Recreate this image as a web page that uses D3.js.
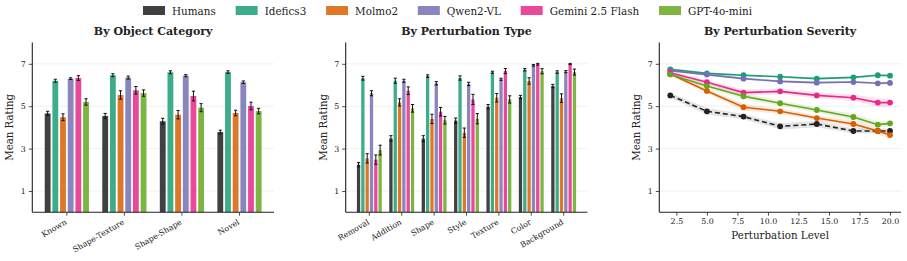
<!DOCTYPE html>
<html><head><meta charset="utf-8">
<script src="https://cdn.jsdelivr.net/npm/d3@7"></script>
<style>
body{margin:0;background:#fff;}
svg text{font-family:"DejaVu Serif",serif;fill:#222;}
</style></head>
<body><svg id="chart" width="907" height="261"></svg>
<script>
// ---------- DATA ----------
const models = ["Humans","Idefics3","Molmo2","Qwen2-VL","Gemini 2.5 Flash","GPT-4o-mini"];
const yTicks = [1,3,5,7];

const catLabels = ["Known","Shape-Texture","Shape-Shape","Novel"];
// rows = models, cols = categories
const catMeans = [
  [4.66,4.54,4.29,3.78],
  [6.20,6.46,6.60,6.61],
  [4.48,5.53,4.60,4.68],
  [6.30,6.35,6.44,6.13],
  [6.33,5.75,5.48,5.01],
  [5.20,5.62,4.93,4.77]
];
const catErr = [
  [0.10,0.12,0.14,0.09],
  [0.07,0.07,0.07,0.06],
  [0.16,0.20,0.20,0.13],
  [0.04,0.07,0.05,0.06],
  [0.11,0.18,0.23,0.18],
  [0.15,0.15,0.19,0.13]
];

const typeLabels = ["Removal","Addition","Shape","Style","Texture","Color","Background"];
const typeMeans = [
  [2.24,3.48,3.47,4.32,4.98,5.43,5.95],
  [6.32,6.20,6.42,6.33,6.60,6.72,6.61],
  [2.54,5.18,4.40,3.75,5.40,6.19,5.38],
  [5.61,6.20,6.08,6.05,6.27,6.93,6.63],
  [2.48,5.73,4.74,5.32,6.66,6.98,6.99],
  [2.93,4.90,4.34,4.41,5.32,6.65,6.61]
];
const typeErr = [
  [0.10,0.13,0.14,0.12,0.10,0.08,0.08],
  [0.09,0.12,0.06,0.10,0.05,0.06,0.06],
  [0.22,0.17,0.22,0.22,0.20,0.15,0.20],
  [0.12,0.07,0.08,0.08,0.05,0.04,0.05],
  [0.22,0.18,0.20,0.24,0.12,0.04,0.03],
  [0.23,0.18,0.18,0.24,0.17,0.12,0.14]
];

const levels = [2,5,8,11,14,17,19,20];
const levelTicks = [2.5,5,7.5,10,12.5,15,17.5,20];
const sevMeans = [
  [5.51,4.76,4.51,4.05,4.16,3.83,3.83,3.83],
  [6.74,6.55,6.46,6.39,6.30,6.36,6.46,6.44],
  [6.52,5.72,4.95,4.76,4.44,4.16,3.83,3.64],
  [6.68,6.49,6.30,6.17,6.11,6.14,6.08,6.10],
  [6.58,6.13,5.64,5.70,5.51,5.40,5.17,5.17],
  [6.50,5.95,5.47,5.14,4.82,4.49,4.13,4.19]
];
const sevCI = [
  [0.12,0.15,0.12,0.15,0.15,0.12,0.12,0.12],
  [0.05,0.05,0.05,0.05,0.05,0.05,0.05,0.05],
  [0.08,0.12,0.15,0.12,0.12,0.15,0.15,0.18],
  [0.06,0.06,0.06,0.06,0.06,0.06,0.06,0.06],
  [0.08,0.10,0.15,0.12,0.15,0.15,0.20,0.18],
  [0.08,0.10,0.13,0.12,0.12,0.15,0.15,0.12]
];

// ---------- STYLE ----------
const lineColors = ["#222222","#1b9e77","#d95f02","#7570b3","#e7298a","#66a61e"];
const barColors  = ["#404040","#3dac8b","#df7728","#8a85be","#ea499b","#7db543"];

const svg = d3.select("#chart");
const Y0 = 212.2, Y8 = 42.6;
const TICK_FS = "7.9px";

function yAxisAndGrid(g, x0, x1, y) {
  g.append("g").selectAll("line").data(yTicks).join("line")
    .attr("x1", x0).attr("x2", x1).attr("y1", d=>y(d)).attr("y2", d=>y(d))
    .attr("stroke", "#ececec").attr("stroke-width", 0.8);
  const ax = g.append("g").attr("transform", `translate(${x0},0)`)
    .call(d3.axisLeft(y).tickValues(yTicks).tickSize(3.5).tickPadding(3).tickFormat(d3.format("d")));
  ax.select(".domain").attr("stroke","#222").attr("stroke-width",1.1).attr("d",`M0,${Y8}V${Y0}`);
  ax.selectAll(".tick line").attr("stroke","#222").attr("stroke-width",0.8);
  ax.selectAll("text").style("font-size",TICK_FS).style("font-family","DejaVu Serif");
}

function title(text, cx) {
  svg.append("text").attr("x", cx).attr("y", 34.5).attr("text-anchor","middle")
    .style("font-size","11px").style("font-weight","bold").text(text);
}
function ylabel(x) {
  svg.append("text").attr("transform", `translate(${x},${(Y0+Y8)/2}) rotate(-90)`)
    .attr("text-anchor","middle").style("font-size","10.2px").text("Mean Rating");
}

function barPanel(x0, x1, labels, means, errs, pad, ttl, ylx) {
  const n = labels.length;
  const x = d3.scaleLinear().domain([-pad, n-1+pad]).range([x0, x1]);
  const y = d3.scaleLinear().domain([0,8]).range([Y0, Y8]);
  const g = svg.append("g");
  yAxisAndGrid(g, x0, x1, y);
  const slot = 0.8/models.length;
  const bw = slot*0.76;
  models.forEach((m, i) => {
    const off = -0.4 + slot/2 + i*slot;
    const gg = g.append("g");
    gg.selectAll("rect").data(means[i]).join("rect")
      .attr("x", (d,j)=>x(j+off-bw/2)).attr("width", x(bw)-x(0))
      .attr("y", d=>y(d)).attr("height", d=>y(0)-y(d))
      .attr("fill", barColors[i]);
    const cw = Math.min(1.6, (x(bw)-x(0))/2);
    means[i].forEach((d,j) => {
      const cx = x(j+off), e = errs[i][j];
      gg.append("path")
        .attr("d", `M${cx},${y(d-e)}V${y(d+e)}M${cx-cw},${y(d-e)}H${cx+cw}M${cx-cw},${y(d+e)}H${cx+cw}`)
        .attr("stroke","#111").attr("stroke-width",1).attr("fill","none");
    });
  });
  // x axis
  const xa = g.append("g").attr("transform", `translate(0,${Y0})`);
  xa.append("line").attr("x1", x0).attr("x2", x1).attr("stroke","#222").attr("stroke-width",1.1);
  labels.forEach((l, j) => {
    xa.append("line").attr("x1", x(j)).attr("x2", x(j)).attr("y1",0).attr("y2",3.5)
      .attr("stroke","#222").attr("stroke-width",0.8);
    xa.append("text").attr("transform", `translate(${x(j)+0.5},${11.5}) rotate(-30)`)
      .attr("text-anchor","end").style("font-size",TICK_FS).text(l);
  });
  title(ttl, (x0+x1)/2);
  ylabel(ylx);
}

barPanel(32.3, 274, catLabels, catMeans, catErr, 0.6, "By Object Category", 12.5);
barPanel(345.7, 587.3, typeLabels, typeMeans, typeErr, 0.73, "By Perturbation Type", 326.5);

// ---------- Panel 3 ----------
(function(){
  const x0 = 659.3, x1 = 901;
  const x = d3.scaleLinear().domain([1.1, 20.9]).range([x0, x1]);
  const y = d3.scaleLinear().domain([0,8]).range([Y0, Y8]);
  const g = svg.append("g");
  yAxisAndGrid(g, x0, x1, y);
  const area = d3.area().x((d,k)=>x(levels[k])).y0(d=>y(d[0]-d[1])).y1(d=>y(d[0]+d[1]));
  const line = d3.line().x((d,k)=>x(levels[k])).y(d=>y(d));
  models.forEach((m,i)=>{
    const pts = sevMeans[i].map((v,k)=>[v, sevCI[i][k]]);
    g.append("path").attr("d", area(pts)).attr("fill", lineColors[i]).attr("opacity", i===0?0.12:0.14);
  });
  models.forEach((m,i)=>{
    g.append("path").attr("d", line(sevMeans[i])).attr("fill","none")
      .attr("stroke", lineColors[i]).attr("stroke-width", 1.6)
      .attr("stroke-dasharray", i===0 ? "5,3" : null);
    g.append("g").selectAll("circle").data(sevMeans[i]).join("circle")
      .attr("cx",(d,k)=>x(levels[k])).attr("cy", d=>y(d)).attr("r", 2.9)
      .attr("fill", lineColors[i]);
  });
  const xa = g.append("g").attr("transform", `translate(0,${Y0})`)
    .call(d3.axisBottom(x).tickValues(levelTicks).tickSize(3.5).tickPadding(3).tickFormat(d3.format(".1f")));
  xa.select(".domain").attr("stroke","#222").attr("stroke-width",1.1).attr("d",`M${x0},0H${x1}`);
  xa.selectAll(".tick line").attr("stroke","#222").attr("stroke-width",0.8);
  xa.selectAll("text").style("font-size",TICK_FS).style("font-family","DejaVu Serif");
  svg.append("text").attr("x",(x0+x1)/2).attr("y",238.5).attr("text-anchor","middle")
    .style("font-size","10.3px").text("Perturbation Level");
  title("By Perturbation Severity", (x0+x1)/2);
  ylabel(640);
})();

// ---------- Legend ----------
(function(){
  const lg = svg.append("g");
  const items = models.map((m,i)=>{
    const it = lg.append("g");
    it.append("rect").attr("x",0).attr("y",6).attr("width",22).attr("height",9).attr("fill",barColors[i]);
    const t = it.append("text").attr("x",29).attr("y",14.5).style("font-size","10.4px").text(m);
    return {it, w: 29 + t.node().getComputedTextLength()};
  });
  const left = 143, right = 752;
  const gap = (right - left - d3.sum(items, d=>d.w)) / (items.length-1);
  let cx = left;
  items.forEach(d=>{ d.it.attr("transform", `translate(${cx},0)`); cx += d.w + gap; });
})();
</script></body></html>
